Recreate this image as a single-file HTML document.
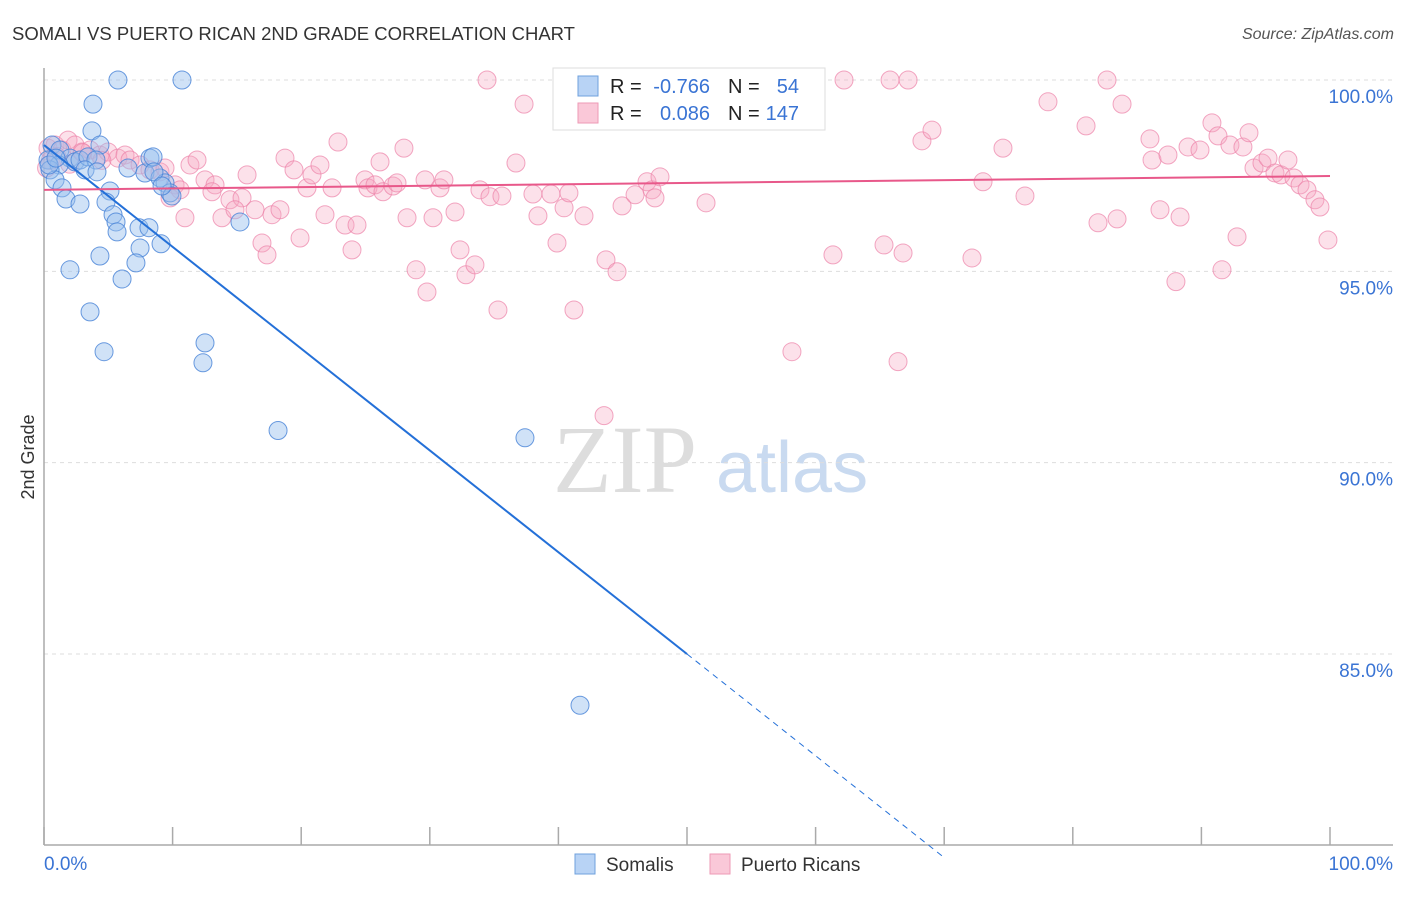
<!DOCTYPE html>
<html><head><meta charset="utf-8"><style>
body{margin:0;background:#fff;font-family:"Liberation Sans",sans-serif;}
</style></head><body>
<svg width="1406" height="892" xmlns="http://www.w3.org/2000/svg" id="chart">
<text x="12" y="40" font-size="18.5" fill="#333">SOMALI VS PUERTO RICAN 2ND GRADE CORRELATION CHART</text>
<text x="1394" y="39" font-size="16" fill="#555" font-style="italic" text-anchor="end">Source: ZipAtlas.com</text>
<text transform="translate(34,457) rotate(-90)" font-size="18" fill="#333" text-anchor="middle">2nd Grade</text>
<g>
<text x="553" y="492" font-size="96" fill="#ddd" font-family="Liberation Serif,serif">ZIP</text>
<text x="716" y="492" font-size="72" fill="#c9daf0">atlas</text>
</g>
<g id="grid"></g>
<g id="axes"></g>
<g id="pink"></g>
<g id="blue"></g>
<g id="trends"></g>
<g>
<rect x="553" y="68" width="272" height="62" fill="#fff" stroke="#ddd"/>
<rect x="578" y="76" width="20" height="20" fill="#b8d3f5" stroke="#6fa0dd"/>
<rect x="578" y="103" width="20" height="20" fill="#fac8d8" stroke="#ee9ab6"/>
<g font-size="20">
<text x="610" y="93" fill="#222">R =</text>
<text x="710" y="93" fill="#3a74d4" text-anchor="end">-0.766</text>
<text x="728" y="93" fill="#222">N =</text>
<text x="799" y="93" fill="#3a74d4" text-anchor="end">54</text>
</g>
<g font-size="20">
<text x="610" y="120" fill="#222">R =</text>
<text x="710" y="120" fill="#3a74d4" text-anchor="end">0.086</text>
<text x="728" y="120" fill="#222">N =</text>
<text x="799" y="120" fill="#3a74d4" text-anchor="end">147</text>
</g>
</g>
<g>
<rect x="575" y="854" width="20" height="20" fill="#b8d3f5" stroke="#6fa0dd"/>
<text x="606" y="871" font-size="19" fill="#333">Somalis</text>
<rect x="710" y="854" width="20" height="20" fill="#fac8d8" stroke="#ee9ab6"/>
<text x="741" y="871" font-size="19" fill="#333">Puerto Ricans</text>
</g>
</svg>
<script>
const yTicks=[100,95,90,85];
const yTickLabels=["100.0%","95.0%","90.0%","85.0%"];
const xTicks=[0,10,20,30,40,50,60,70,80,90,100];
const xEndLabels=["0.0%","100.0%"];
const blueX=[5.75,10.73,3.81,3.73,4.35,0.62,1.24,0.31,2.02,2.41,2.80,3.42,4.04,3.19,4.12,1.17,0.47,0.86,1.40,1.71,2.80,5.13,4.82,5.37,5.60,5.68,7.39,8.16,7.47,9.10,7.15,6.07,4.35,2.02,3.58,4.67,12.52,12.36,18.20,37.40,41.68,6.53,7.85,8.24,8.48,9.02,9.41,9.80,9.95,15.24,8.55,9.18,0.39,0.93];
const blueY=[100,100,99.37,98.67,98.30,98.30,98.17,97.91,97.96,97.86,97.91,97.99,97.91,97.65,97.60,97.78,97.65,97.39,97.18,96.89,96.76,97.10,96.81,96.48,96.29,96.03,96.14,96.14,95.61,95.72,95.22,94.80,95.40,95.04,93.94,92.90,93.13,92.61,90.84,90.65,83.66,97.70,97.57,97.96,97.99,97.44,97.31,97.05,96.97,96.29,97.60,97.23,97.78,97.96];
const pinkX=[0.31,0.86,1.40,1.87,2.41,2.95,3.58,4.35,4.98,5.75,6.30,6.69,7.47,8.24,9.02,9.41,10.19,10.58,9.80,10.96,11.35,11.90,12.52,13.30,13.06,13.84,14.46,15.40,14.85,15.79,16.41,16.95,17.34,17.73,18.35,18.74,19.44,19.91,20.45,20.84,21.46,21.85,22.40,22.86,23.41,23.95,24.34,24.96,25.19,25.74,26.36,26.13,27.14,27.45,27.99,28.23,28.93,29.78,29.63,30.25,30.79,31.10,31.96,32.35,32.81,33.51,33.90,34.45,34.68,35.30,35.61,36.70,37.33,38.02,38.41,39.42,39.89,40.44,40.82,41.21,41.99,43.55,43.70,44.56,44.95,45.96,46.89,47.28,47.90,47.51,48.13,49.14,50.23,51.48,58.16,59.41,59.95,62.21,61.35,65.32,65.79,66.41,66.80,67.19,68.27,69.05,72.16,73.02,74.57,76.28,78.07,81.03,81.96,82.66,83.44,83.83,86.00,86.16,86.78,87.40,88.02,88.34,88.96,89.89,90.82,91.29,91.60,92.22,92.77,93.23,93.70,94.09,94.71,95.18,95.72,96.19,96.73,97.20,97.67,98.21,98.83,99.22,99.84,0.5,1.0,2.0,3.0,4.5,0.2];
const pinkY=[98.22,98.30,98.17,98.43,98.30,98.12,98.17,98.04,98.12,97.96,98.04,97.91,97.78,97.65,97.60,97.70,97.26,97.13,96.92,96.40,97.78,97.91,97.39,97.26,97.08,96.40,96.87,96.92,96.61,97.52,96.61,95.74,95.43,96.48,96.61,97.96,97.65,95.87,97.18,97.52,97.78,96.48,97.18,98.38,96.21,95.56,96.21,97.39,97.18,97.26,97.08,97.86,97.23,97.31,98.22,96.40,95.04,94.46,97.39,96.40,97.18,97.39,96.55,95.56,94.91,95.17,97.13,100,96.95,93.99,96.97,97.83,99.37,97.02,96.45,97.02,95.74,96.66,97.05,93.99,96.45,91.23,95.30,94.99,96.71,97.00,97.34,97.13,97.47,96.92,100,100,100,96.79,92.90,100,100,100,95.43,95.69,100,92.64,95.48,100,98.41,98.69,95.35,97.34,98.22,96.97,99.43,98.80,96.27,100,96.37,99.37,98.46,97.91,96.61,98.04,94.73,96.42,98.25,98.17,98.88,98.54,95.04,98.30,95.90,98.25,98.62,97.70,97.83,97.96,97.57,97.52,97.91,97.44,97.26,97.13,96.87,96.68,95.82,97.9,98.0,97.8,98.1,97.9,97.7];
const blueTrend=[98.30,85.0];   // values at x=0 and x=50 (solid segment end)
const blueDashEndX=70;
const pinkTrend=[97.13,97.49]; // values at x=0 and x=100
const NS="http://www.w3.org/2000/svg";
const X0=44,X1=1330,YT=80,Y85=654,YB=845;
function sx(v){return X0+(v/100)*(X1-X0);}
function sy(v){return YT+(100-v)*(Y85-YT)/15;}
function mk(tag,attrs,parent){const e=document.createElementNS(NS,tag);for(const k in attrs)e.setAttribute(k,attrs[k]);parent.appendChild(e);return e;}
const grid=document.getElementById('grid'),axes=document.getElementById('axes');
yTicks.forEach((t,i)=>{
 const l=mk('line',{x1:X0,x2:1393,y1:sy(t),y2:sy(t),stroke:'#ddd','stroke-dasharray':'4,4'},grid);
 
 
 const tx=mk('text',{x:1393,y:sy(t)+23,'font-size':19,fill:'#3a74d4','text-anchor':'end'},axes);
 tx.textContent=yTickLabels[i];
 
 
});
const ya=mk('line',{x1:X0,x2:X0,y1:68,y2:YB,stroke:'#aaa','stroke-width':1.5},axes);


const xa=mk('line',{x1:X0,x2:1393,y1:YB,y2:YB,stroke:'#aaa','stroke-width':1.5},axes);


xTicks.forEach(t=>{
 const k=mk('line',{x1:sx(t),x2:sx(t),y1:827,y2:YB,stroke:'#aaa','stroke-width':1.5},axes);
 
 
});
const xl0=mk('text',{x:X0,y:870,'font-size':19,fill:'#3a74d4'},axes);
xl0.textContent=xEndLabels[0];


const xl1=mk('text',{x:1393,y:870,'font-size':19,fill:'#3a74d4','text-anchor':'end'},axes);
xl1.textContent=xEndLabels[1];


const pg=document.getElementById('pink');
pinkX.forEach((x,i)=>{
 const c=mk('circle',{cx:sx(x),cy:sy(pinkY[i]),r:9,fill:'rgba(246,170,196,0.35)',stroke:'rgba(236,130,168,0.7)','stroke-width':1},pg);
 
 
});
const bg=document.getElementById('blue');
blueX.forEach((x,i)=>{
 const c=mk('circle',{cx:sx(x),cy:sy(blueY[i]),r:9,fill:'rgba(150,190,238,0.45)',stroke:'rgba(70,130,215,0.8)','stroke-width':1},bg);
 
 
});
const tg=document.getElementById('trends');
const slope=(blueTrend[1]-blueTrend[0])/50;
const b1=mk('line',{x1:sx(0),y1:sy(blueTrend[0]),x2:sx(50),y2:sy(blueTrend[1]),stroke:'#2470d8','stroke-width':2},tg);


const b2=mk('line',{x1:sx(50),y1:sy(blueTrend[1]),x2:sx(blueDashEndX),y2:sy(blueTrend[0]+slope*blueDashEndX),stroke:'#2470d8','stroke-width':1,'stroke-dasharray':'6,5'},tg);


const p1=mk('line',{x1:sx(0),y1:sy(pinkTrend[0]),x2:sx(100),y2:sy(pinkTrend[1]),stroke:'#e8588a','stroke-width':2},tg);


</script>
</body></html>
